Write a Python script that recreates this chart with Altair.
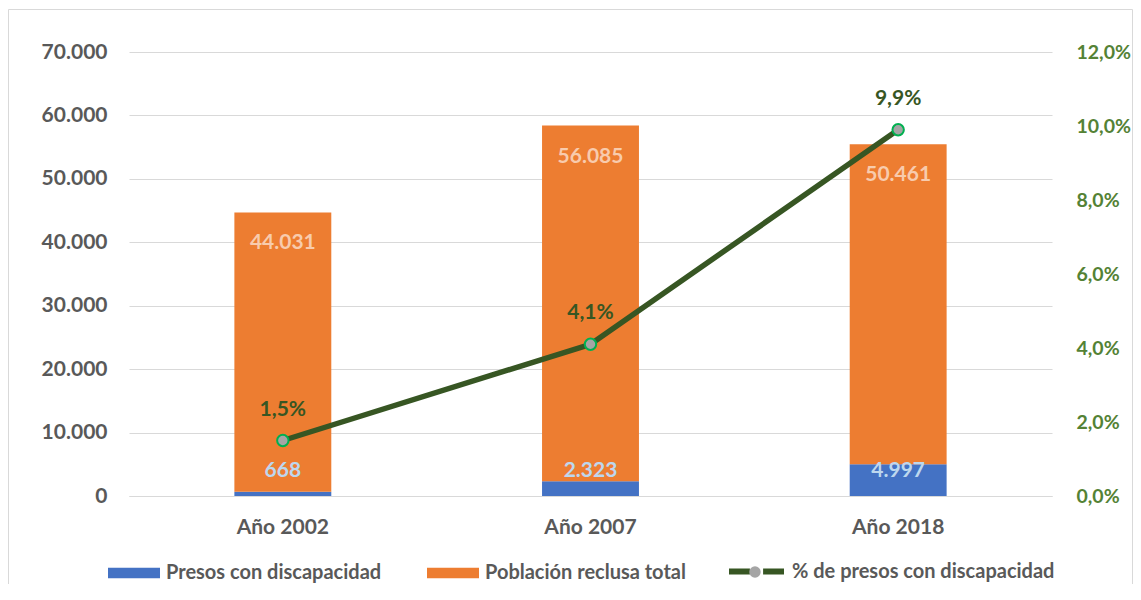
import altair as alt
import pandas as pd

anios = ["Año 2002", "Año 2007", "Año 2018"]
presos = [668, 2323, 4997]
poblacion = [44031, 56085, 50461]
porcentaje = [0.015, 0.041, 0.099]
series = ["Presos con discapacidad", "Población reclusa total"]
serie_linea = "% de presos con discapacidad"
y_ticks = [0, 10000, 20000, 30000, 40000, 50000, 60000, 70000]
y2_ticks = [0, 0.02, 0.04, 0.06, 0.08, 0.10, 0.12]

wide = pd.DataFrame({"anio": anios, "presos": presos, "poblacion": poblacion, "pct": porcentaje})
wide["total"] = wide["presos"] + wide["poblacion"]
wide["linea"] = serie_linea
wide["punto"] = serie_linea
long = pd.concat([
    pd.DataFrame({"anio": anios, "serie": series[0], "valor": presos, "orden": 0}),
    pd.DataFrame({"anio": anios, "serie": series[1], "valor": poblacion, "orden": 1}),
], ignore_index=True)

FONT = "Lato"
GRAY = "#595959"
GRID = "#D9D9D9"
DARKGREEN = "#375623"

x_enc = alt.X("anio:N", sort=anios,
              scale=alt.Scale(paddingInner=0.685, paddingOuter=0.3425),
              axis=alt.Axis(title=None, labelAngle=0, labelFont=FONT, labelFontSize=21,
                            labelFontWeight="bold", labelColor=GRAY, labelPadding=20,
                            ticks=False, domainColor=GRID))
y_scale = alt.Scale(domain=[0, 70000])
y_axis = alt.Axis(title=None, values=y_ticks, format=",.0f", labelFont=FONT,
                  labelFontSize=21, labelFontWeight="bold", labelColor=GRAY,
                  labelPadding=22, ticks=False, domain=False, grid=True, gridColor=GRID)
y2_scale = alt.Scale(domain=[0, 0.12])
y2_axis = alt.Axis(title=None, orient="right", values=y2_ticks, format=".1%",
                   labelFont=FONT, labelFontSize=19.5, labelFontWeight="bold",
                   labelColor="#548235", labelPadding=24, ticks=False, domain=False,
                   grid=False)

frame = alt.Chart(alt.Data(values=[{}])).mark_rect(
    fillOpacity=0, stroke="#D9D9D9", strokeWidth=1
).encode(x=alt.value(-120.5), x2=alt.value(1003.5), y=alt.value(-42.5), y2=alt.value(560))

bars = alt.Chart(long).mark_bar().encode(
    x=x_enc,
    y=alt.Y("valor:Q", stack="zero", scale=y_scale, axis=y_axis),
    color=alt.Color("serie:N", scale=alt.Scale(domain=series, range=["#4472C4", "#ED7D31"]),
                    legend=alt.Legend(title=None, orient="none", legendX=-21, legendY=495,
                                      direction="horizontal", columns=2,
                                      symbolType="M-1,-0.2H1V0.2H-1Z", symbolSize=2704,
                                      symbolStrokeWidth=0, labelFont=FONT, labelFontSize=20,
                                      labelFontWeight="bold", labelColor=GRAY, labelOffset=6,
                                      columnPadding=45, labelLimit=400)),
    order=alt.Order("orden:Q"),
)

txt_total = alt.Chart(wide).mark_text(
    dy=31, baseline="middle", font=FONT, fontSize=21, fontWeight="bold", color="#F8CBAD"
).encode(x=x_enc, y=alt.Y("total:Q", scale=y_scale, axis=y_axis),
         text=alt.Text("poblacion:Q", format=",.0f"))

txt_presos = alt.Chart(wide).mark_text(
    dy=-15, baseline="bottom", font=FONT, fontSize=21, fontWeight="bold", color="#BDD7EE"
).encode(x=x_enc, y=alt.YDatum(0, type="quantitative", scale=y_scale, axis=y_axis),
         text=alt.Text("presos:Q", format=",.0f"))

left = alt.layer(frame, bars, txt_total, txt_presos)

line = alt.Chart(wide).mark_line(strokeWidth=5.5, strokeJoin="round").encode(
    x=x_enc, y=alt.Y("pct:Q", scale=y2_scale, axis=y2_axis),
    stroke=alt.Stroke("linea:N", scale=alt.Scale(range=[DARKGREEN]),
                      legend=alt.Legend(title=None, orient="none", legendX=597, legendY=489,
                                        symbolType="M-1,0H-0.24M0.24,0H1", symbolSize=3025,
                                        symbolStrokeWidth=6, labelFont=FONT, labelFontSize=20,
                                        labelFontWeight="bold", labelColor=GRAY, labelOffset=5,
                                        labelLimit=400)),
)

points = alt.Chart(wide).mark_point(
    filled=False, fill="#A5A5A5", fillOpacity=1, stroke="#00B050", strokeWidth=2,
    size=130, opacity=1
).encode(
    x=x_enc, y=alt.Y("pct:Q", scale=y2_scale, axis=y2_axis),
    shape=alt.Shape("punto:N", scale=alt.Scale(range=["circle"]),
                    legend=alt.Legend(title=None, orient="none", legendX=619, legendY=513,
                                      symbolSize=130, symbolFillColor="#A5A5A5",
                                      symbolStrokeColor="#00B050", symbolStrokeWidth=2,
                                      symbolOpacity=1, labelExpr="''")),
)

txt_pct = alt.Chart(wide).mark_text(
    dy=-31, baseline="middle", font=FONT, fontSize=21, fontWeight="bold", color=DARKGREEN
).encode(x=x_enc, y=alt.Y("pct:Q", scale=y2_scale, axis=y2_axis),
         text=alt.Text("pct:Q", format=".1%"))

right = alt.layer(line, points, txt_pct)

chart = alt.layer(left, right).resolve_scale(y="independent").properties(
    width=923, height=444,
    autosize=alt.AutoSizeParams(type="none"),
    padding={"left": 121, "top": 44, "right": 81, "bottom": 88},
).configure(
    locale={"number": {"decimal": ",", "thousands": ".", "grouping": [3], "currency": ["", " €"]}},
    font=FONT,
).configure_view(stroke=None)

chart.save("out.html", embed_options={"renderer": "svg", "actions": False})
